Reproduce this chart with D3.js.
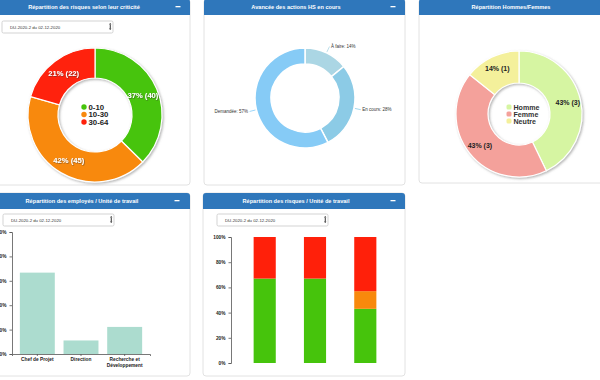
<!DOCTYPE html>
<html><head><meta charset="utf-8">
<script src="https://cdn.jsdelivr.net/npm/d3@7"></script>
<style>
html,body{margin:0;padding:0;background:#fff;}
svg{display:block;font-family:"Liberation Sans",Arial,sans-serif;}
</style></head>
<body><svg id="c" width="600" height="380"></svg>
<script>
// ---- data ----
const riskCats = ["0-10", "10-30", "30-64"];
const riskCounts = [40, 45, 22];
const riskColors = ["#46c40c", "#f8890c", "#ff200a"];

const actionCats = ["À faire", "En cours", "Demandée"];
const actionPct = [14, 28, 57];
const actionColors = ["#abd6e4", "#8ccbe6", "#86cbf6"];

const genderCats = ["Homme", "Femme", "Neutre"];
const genderCounts = [3, 3, 1];
const genderColors = ["#d6f5a2", "#f4a19b", "#f4f09b"];

const empUnits = ["Chef de Projet", "Direction", "Recherche et Développement"];
const empShare = [0.667, 0.111, 0.222];

const riskUnits = ["Unité 1", "Unité 2", "Unité 3"];
const riskLow = [0.67, 0.67, 0.43];
const riskMid = [0.00, 0.00, 0.14];
const riskHigh = [0.33, 0.33, 0.43];

const yTicks = [0, 0.2, 0.4, 0.6, 0.8, 1];
const selectLabel = "DU-2020-2 du 02-12-2020";

const panelTitles = ["Répartition des risques selon leur criticité", "Avancée des actions HS en cours",
  "Répartition Hommes/Femmes", "Répartition des employés / Unité de travail", "Répartition des risques / Unité de travail"];

// ---- drawing ----
const svg = d3.select("#c");
const defs = svg.append("defs");
const f = defs.append("filter").attr("id", "sh").attr("x", "-20%").attr("y", "-20%").attr("width", "140%").attr("height", "140%");
f.append("feDropShadow").attr("dx", 1.2).attr("dy", 1.2).attr("stdDeviation", 1).attr("flood-color", "#777").attr("flood-opacity", 0.55);
const ft = defs.append("filter").attr("id", "tsh").attr("x", "-20%").attr("y", "-40%").attr("width", "140%").attr("height", "180%");
ft.append("feDropShadow").attr("dx", 0.6).attr("dy", 0.6).attr("stdDeviation", 0.5).attr("flood-color", "#333").attr("flood-opacity", 0.7);

const HEAD = "#2f77bb";
function panel(x, y, w, h, title, titleCx, minX) {
  const g = svg.append("g");
  g.append("rect").attr("x", x).attr("y", y).attr("width", w).attr("height", h).attr("rx", 3)
    .attr("fill", "#fff").attr("stroke", "#e2e2e2").attr("stroke-width", 1);
  g.append("path").attr("d", `M${x},${y + 16}V${y + 3}Q${x},${y} ${x + 3},${y}H${x + w - 3}Q${x + w},${y} ${x + w},${y + 3}V${y + 16}Z`)
    .attr("fill", HEAD);
  g.append("text").attr("x", titleCx).attr("y", y + 10).attr("text-anchor", "middle")
    .attr("fill", "#fff").attr("font-size", 5.6).attr("font-weight", "bold").text(title);
  if (minX) g.append("rect").attr("x", minX - 2.5).attr("y", y + 7).attr("width", 5).attr("height", 1.3).attr("fill", "#fff");
  return g;
}
function select(x, y, w) {
  const g = svg.append("g");
  g.append("rect").attr("x", x).attr("y", y).attr("width", w).attr("height", 12).attr("rx", 1.5)
    .attr("fill", "#fff").attr("stroke", "#c8c8c8").attr("stroke-width", 0.8);
  g.append("text").attr("x", x + 8).attr("y", y + 7.6).attr("font-size", 4.3).attr("fill", "#333").text(selectLabel);
  g.append("path").attr("d", `M${x + w - 4},${y + 3.5}l1.2,-1.6l1.2,1.6Z M${x + w - 4},${y + 7.5}l1.2,1.6l1.2,-1.6Z`).attr("fill", "#222");
  g.append("rect").attr("x", x + w - 3.2).attr("y", y + 3.8).attr("width", 0.9).attr("height", 3.8).attr("fill", "#222");
}

// Panel 1
panel(-3, -1, 193, 186, panelTitles[0], 84, 178);
select(2, 21, 111);
{
  const cx = 95, cy = 115, rI = 37, rO = 67;
  const g = svg.append("g").attr("transform", `translate(${cx},${cy})`);
  const pie = d3.pie().sort(null)(riskCounts);
  const arc = d3.arc().innerRadius(rI).outerRadius(rO);
  g.append("g").attr("filter", "url(#sh)").selectAll("path").data(pie).join("path")
    .attr("d", arc).attr("fill", (d, i) => riskColors[i]).attr("stroke", "#fff").attr("stroke-width", 1.2);
  const tot = d3.sum(riskCounts);
  const la = d3.arc().innerRadius(52).outerRadius(52);
  g.selectAll("text.l").data(pie).join("text").attr("class", "l")
    .attr("transform", d => `translate(${la.centroid(d)})`).attr("text-anchor", "middle").attr("dy", "0.35em")
    .attr("fill", "#fff").attr("font-size", 7.6).attr("font-weight", "bold").attr("filter", "url(#tsh)")
    .text(d => `${Math.round(d.data / tot * 100)}% (${d.data})`);
  const lg = g.selectAll("g.lg").data(riskCats).join("g").attr("class", "lg")
    .attr("transform", (d, i) => `translate(-11,${-8 + i * 7.5})`);
  lg.append("circle").attr("r", 2.7).attr("fill", (d, i) => riskColors[i]);
  lg.append("text").attr("x", 4.5).attr("dy", "0.35em").attr("font-size", 7.8).attr("font-weight", "bold").attr("fill", "#222").text(d => d);
}

// Panel 2
panel(204, -1, 201, 186, panelTitles[1], 296, 393);
{
  const cx = 305, cy = 98, rI = 34, rO = 50;
  const g = svg.append("g").attr("transform", `translate(${cx},${cy})`);
  const pie = d3.pie().sort(null)(actionPct);
  const arc = d3.arc().innerRadius(rI).outerRadius(rO);
  g.selectAll("path").data(pie).join("path")
    .attr("d", arc).attr("fill", (d, i) => actionColors[i]).attr("stroke", "#fff").attr("stroke-width", 1.5);
  pie.forEach((d, i) => {
    const a = (d.startAngle + d.endAngle) / 2;
    const s = Math.sin(a), c = -Math.cos(a);
    const p1 = [s * (rO + 1), c * (rO + 1)], p2 = [s * (rO + 7), c * (rO + 7)];
    const right = s >= 0;
    g.append("line").attr("x1", p1[0]).attr("y1", p1[1]).attr("x2", p2[0]).attr("y2", p2[1])
      .attr("stroke", actionColors[i]).attr("stroke-width", 0.8);
    g.append("text").attr("x", p2[0] + (right ? 1.5 : -1.5)).attr("y", p2[1]).attr("dy", "0.35em")
      .attr("text-anchor", right ? "start" : "end").attr("font-size", 4.5).attr("fill", "#333")
      .text(`${actionCats[i]}: ${d.data}%`);
  });
}

// Panel 3
panel(419, -1, 184, 184, panelTitles[2], 511, null);
{
  const cx = 519, cy = 114, rI = 31, rO = 63;
  const g = svg.append("g").attr("transform", `translate(${cx},${cy})`);
  const pie = d3.pie().sort(null)(genderCounts);
  const arc = d3.arc().innerRadius(rI).outerRadius(rO);
  g.append("g").attr("filter", "url(#sh)").selectAll("path").data(pie).join("path")
    .attr("d", arc).attr("fill", (d, i) => genderColors[i]).attr("stroke", "#fff").attr("stroke-width", 1.2);
  const tot = d3.sum(genderCounts);
  const la = d3.arc().innerRadius(50).outerRadius(50);
  g.selectAll("text.l").data(pie).join("text").attr("class", "l")
    .attr("transform", d => `translate(${la.centroid(d)})`).attr("text-anchor", "middle").attr("dy", "0.35em")
    .attr("fill", "#222").attr("font-size", 7).attr("font-weight", "bold")
    .text(d => `${Math.round(d.data / tot * 100)}% (${d.data})`);
  const lg = g.selectAll("g.lg").data(genderCats).join("g").attr("class", "lg")
    .attr("transform", (d, i) => `translate(-10,${-7 + i * 7})`);
  lg.append("rect").attr("x", -2.5).attr("y", -2.5).attr("width", 5).attr("height", 5).attr("rx", 1.5).attr("fill", (d, i) => genderColors[i]);
  lg.append("text").attr("x", 4.5).attr("dy", "0.35em").attr("font-size", 7.1).attr("font-weight", "bold").attr("fill", "#333").text(d => d);
}

// Panel 4
panel(-3, 193, 193, 183, panelTitles[3], 82, 177);
select(3, 214, 111);
{
  const x = d3.scaleBand().domain(empUnits).range([12, 150]).paddingInner(0.2).paddingOuter(0.18);
  const y = d3.scaleLinear().domain([0, 1]).range([354, 232]);
  const g = svg.append("g");
  g.selectAll("rect.b").data(empUnits).join("rect").attr("class", "b")
    .attr("x", d => x(d)).attr("width", x.bandwidth())
    .attr("y", (d, i) => y(empShare[i])).attr("height", (d, i) => y(0) - y(empShare[i])).attr("fill", "#acdccf");
  const ya = g.append("g").attr("transform", "translate(12,0)").call(d3.axisLeft(y).tickValues(yTicks).tickFormat(d3.format(".0%")).tickSize(2.5));
  const xa = g.append("g").attr("transform", "translate(0,354)").call(d3.axisBottom(x).tickSize(2).tickFormat(""));
  [ya, xa].forEach(a => { a.selectAll("path,line").attr("stroke", "#555").attr("stroke-width", 0.8); });
  ya.selectAll("text").attr("font-size", 4.8).attr("font-weight", "bold").attr("fill", "#222").attr("font-family", "Liberation Sans, Arial");
  xa.selectAll(".tick").each(function (d) {
    const words = d.split(" ");
    const lines = d.length > 16 ? [words.slice(0, 2).join(" "), words.slice(2).join(" ")] : [d];
    const t = d3.select(this).append("text").attr("text-anchor", "middle").attr("font-size", 4.8).attr("font-weight", "bold").attr("fill", "#222");
    lines.forEach((l, k) => t.append("tspan").attr("x", 0).attr("y", 7 + k * 5.6).text(l));
  });
}

// Panel 5
panel(203, 193, 202, 183, panelTitles[4], 296, 393);
select(217, 214, 111);
{
  const x = d3.scaleBand().domain(riskUnits).range([231, 399]).paddingInner(0.56).paddingOuter(0.45);
  const y = d3.scaleLinear().domain([0, 1]).range([363, 237]);
  const rows = riskUnits.map((u, i) => ({ unit: u, low: riskLow[i], mid: riskMid[i], high: riskHigh[i] }));
  const series = d3.stack().keys(["low", "mid", "high"])(rows);
  const g = svg.append("g");
  g.selectAll("g.s").data(series).join("g").attr("class", "s").attr("fill", (d, i) => riskColors[i])
    .selectAll("rect").data(d => d).join("rect")
    .attr("x", d => x(d.data.unit)).attr("width", x.bandwidth())
    .attr("y", d => y(d[1])).attr("height", d => Math.max(0, y(d[0]) - y(d[1])));
  const ya = g.append("g").attr("transform", "translate(231,0)").call(d3.axisLeft(y).tickValues(yTicks).tickFormat(d3.format(".0%")).tickSize(2.5));
  ya.selectAll("path,line").attr("stroke", "#555").attr("stroke-width", 0.8);
  ya.selectAll("text").attr("font-size", 4.8).attr("font-weight", "bold").attr("fill", "#222").attr("font-family", "Liberation Sans, Arial");
}
</script></body></html>
